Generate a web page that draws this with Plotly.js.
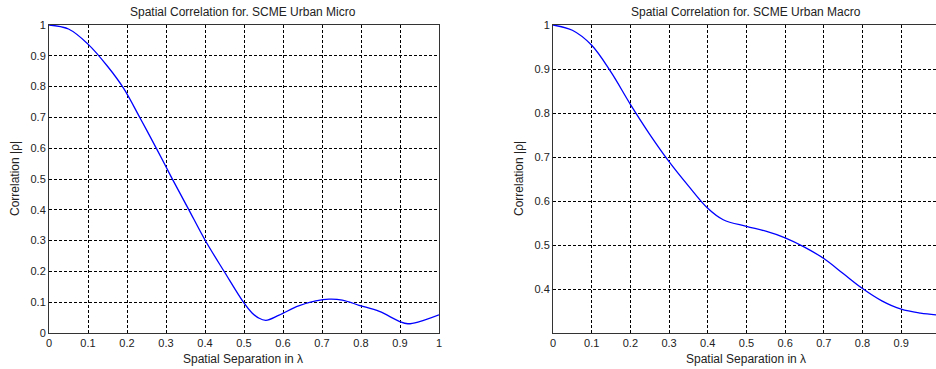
<!DOCTYPE html>
<html>
<head>
<meta charset="utf-8">
<script src="https://cdn.plot.ly/plotly-3.0.1.min.js"></script>
<style>
html,body{margin:0;padding:0;background:#fff;}
#chart{width:936px;height:369px;}
</style>
</head>
<body>
<div id="chart"></div>
<script>
// Left: SCME Urban Micro
const microX = [0, 0.05, 0.1, 0.15, 0.191, 0.2335, 0.276, 0.315, 0.357, 0.4, 0.45, 0.4985, 0.52, 0.537, 0.556, 0.59, 0.64, 0.684, 0.718, 0.752, 0.795, 0.847, 0.898, 0.92, 0.95, 1.0];
const microY = [1.0, 0.987, 0.938, 0.866, 0.795, 0.698, 0.598, 0.503, 0.404, 0.302, 0.198, 0.1, 0.066, 0.049, 0.041, 0.058, 0.088, 0.104, 0.11, 0.107, 0.09, 0.07, 0.038, 0.03, 0.037, 0.059];
// Right: SCME Urban Macro
const macroX = [0, 0.05, 0.1, 0.15, 0.2, 0.25, 0.3, 0.35, 0.4, 0.44, 0.5, 0.55, 0.6, 0.65, 0.7, 0.75, 0.8, 0.85, 0.9, 0.95, 0.99];
const macroY = [1.0, 0.988, 0.954, 0.893, 0.82, 0.752, 0.69, 0.635, 0.584, 0.558, 0.543, 0.532, 0.517, 0.496, 0.47, 0.436, 0.402, 0.374, 0.355, 0.346, 0.342];

const xTicksLeft = [0, 0.1, 0.2, 0.3, 0.4, 0.5, 0.6, 0.7, 0.8, 0.9, 1];
const yTicksLeft = [0, 0.1, 0.2, 0.3, 0.4, 0.5, 0.6, 0.7, 0.8, 0.9, 1];
const xTicksRight = [0, 0.1, 0.2, 0.3, 0.4, 0.5, 0.6, 0.7, 0.8, 0.9];
const yTicksRight = [0.4, 0.5, 0.6, 0.7, 0.8, 0.9, 1];

const titleLeft = 'Spatial Correlation for. SCME Urban Micro';
const titleRight = 'Spatial Correlation for. SCME Urban Macro';
const xLabel = 'Spatial Separation in λ';
const yLabel = 'Correlation |ρ|';

const W = 936, H = 369, T = 25, B = 36;
const PH = H - T - B;
const px = v => v / W;
const py = v => (H - B - v) / PH;

const fontFam = '"Liberation Sans", Arial, sans-serif';
const tickFont = {family: fontFam, size: 11, color: '#222'};
const labFont = {family: fontFam, size: 12, color: '#222'};

const axisCommon = {
  showgrid: true, gridcolor: '#000', gridwidth: 1, griddash: '3px,2px',
  zeroline: false, showline: true, linecolor: '#333', linewidth: 1,
  ticks: '', tickfont: tickFont, fixedrange: true
};

const lineStyle = {color: '#0000ff', width: 1.3, shape: 'spline', smoothing: 1};

const data = [
  {x: microX, y: microY, xaxis: 'x', yaxis: 'y', type: 'scatter', mode: 'lines', line: lineStyle, hoverinfo: 'skip'},
  {x: macroX, y: macroY, xaxis: 'x2', yaxis: 'y2', type: 'scatter', mode: 'lines', line: lineStyle, hoverinfo: 'skip'}
];

const layout = {
  width: W, height: H,
  margin: {l: 0, r: 0, t: T, b: B, pad: 0},
  paper_bgcolor: '#fff', plot_bgcolor: '#fff',
  showlegend: false,
  xaxis: Object.assign({}, axisCommon, {domain: [49/W, 439/W], range: [0, 1], tickvals: xTicksLeft, mirror: true, anchor: 'y'}),
  yaxis: Object.assign({}, axisCommon, {domain: [0, 1], range: [0, 1], tickvals: yTicksLeft, mirror: true, anchor: 'x'}),
  xaxis2: Object.assign({}, axisCommon, {domain: [553/W, 1], range: [0, 0.99], tickvals: xTicksRight, mirror: true, anchor: 'y2'}),
  yaxis2: Object.assign({}, axisCommon, {domain: [0, 1], range: [0.301, 1], tickvals: yTicksRight, mirror: false, anchor: 'x2'}),
  annotations: [
    {text: titleLeft, xref: 'paper', yref: 'paper', x: px(243), y: py(12), xanchor: 'center', yanchor: 'middle', showarrow: false, font: labFont},
    {text: titleRight, xref: 'paper', yref: 'paper', x: px(746), y: py(12), xanchor: 'center', yanchor: 'middle', showarrow: false, font: labFont},
    {text: xLabel, xref: 'paper', yref: 'paper', x: px(243), y: py(359), xanchor: 'center', yanchor: 'middle', showarrow: false, font: labFont},
    {text: xLabel, xref: 'paper', yref: 'paper', x: px(746), y: py(359), xanchor: 'center', yanchor: 'middle', showarrow: false, font: labFont},
    {text: yLabel, xref: 'paper', yref: 'paper', x: px(15), y: py(179), xanchor: 'center', yanchor: 'middle', textangle: -90, showarrow: false, font: labFont},
    {text: yLabel, xref: 'paper', yref: 'paper', x: px(519), y: py(179), xanchor: 'center', yanchor: 'middle', textangle: -90, showarrow: false, font: labFont}
  ]
};

Plotly.newPlot('chart', data, layout, {displayModeBar: false, staticPlot: true});
</script>
</body>
</html>
